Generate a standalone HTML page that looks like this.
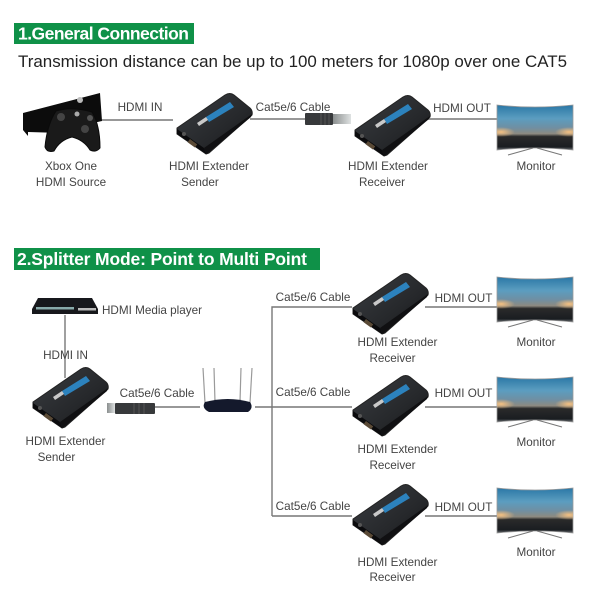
<!DOCTYPE html>
<html><head><meta charset="utf-8">
<style>html,body{margin:0;padding:0;background:#fff}svg{display:block;filter:blur(.3px)}
text{font-family:"Liberation Sans",sans-serif;font-size:11.7px;fill:#444}
.h{font-weight:bold;font-size:17.5px;fill:#fff}.c{text-anchor:middle}</style></head>
<body>
<svg width="608" height="608" viewBox="0 0 608 608" xmlns="http://www.w3.org/2000/svg">
<defs>
<linearGradient id="scr" x1="0" y1="0" x2="0" y2="1">
<stop offset="0" stop-color="#2a77a6"/><stop offset=".3" stop-color="#5b9dc0"/><stop offset=".5" stop-color="#6f8fa3"/><stop offset=".64" stop-color="#8d8a80"/><stop offset=".7" stop-color="#2a2a2a"/><stop offset=".93" stop-color="#1a1d21"/><stop offset="1" stop-color="#6b6f73"/></linearGradient>
<radialGradient id="glow"><stop offset="0" stop-color="#f5c182"/><stop offset="1" stop-color="#f5c182" stop-opacity="0"/></radialGradient>
<linearGradient id="body" x1="0" y1="0" x2="1" y2="1"><stop offset="0" stop-color="#3a3d41"/><stop offset=".6" stop-color="#26282b"/><stop offset="1" stop-color="#141416"/></linearGradient>
<linearGradient id="pl" x1="0" y1="0" x2="1" y2="0"><stop offset="0" stop-color="#8a8e8e"/><stop offset="1" stop-color="#dfe2e2"/></linearGradient>
<clipPath id="mc"><rect x="0" y="0" width="76" height="46"/></clipPath>
<g id="ext">
<path d="M1 3 L49-30 Q54-33 58-30 L74-17 Q77-14 76-10 L33 28 L30 29 L1 9Z" fill="url(#body)" stroke="#222" stroke-width="1" stroke-linejoin="round"/>
<path d="M1 4 L28 23 L30 29 L1 9Z" fill="#0b0b0d"/>
<path d="M28 23 L76-11 L75-8 L32 28 L30 29Z" fill="#101012"/>
<path d="M30-8 L54-23 L58-18 L33-3Z" fill="#2c82bd"/>
<path d="M21-2 L30-8 L32-5 L23 1Z" fill="#c9c9c9"/>
<rect x="12" y="16" width="9" height="4" transform="rotate(36 16 18)" fill="#5a4a36"/>
<circle cx="8" cy="9" r="2" fill="#555"/>
</g>
<g id="mon">
<path d="M0 0 Q38 4 76 0 L76 45 Q38 41 0 45Z" fill="url(#scr)" stroke="#999" stroke-width=".8"/>
<g clip-path="url(#mc)">
<ellipse cx="4" cy="27" rx="14" ry="5" fill="url(#glow)"/>
<ellipse cx="72" cy="27" rx="14" ry="5" fill="url(#glow)"/>
</g>
<path d="M40 43 L65 50 M36 43 L11 50" stroke="#777" stroke-width="1" fill="none"/>
</g>
<g id="plug">
<rect x="0" y="0" width="28" height="12" rx="1" fill="#37393b"/>
<path d="M16 0V12M20 0V12M24 0V12" stroke="#555" stroke-width="1"/>
<rect x="28" y="1" width="18" height="10" fill="url(#pl)"/>
</g>
</defs>
<rect width="608" height="608" fill="#fff"/>

<rect x="14" y="23" width="180" height="21" fill="#0f9148"/>
<text x="18" y="39.5" class="h" textLength="171" lengthAdjust="spacing">1.General Connection</text>
<text x="18" y="67" style="font-size:16.5px;fill:#222" textLength="549" lengthAdjust="spacingAndGlyphs">Transmission distance can be up to 100 meters for 1080p over one CAT5</text>

<g stroke="#777" stroke-width="1.4" fill="none">
<path d="M96 120H173M250 119H306M425 119H497"/>
<path d="M65 315V378M155 407H200M255 407H272M272 516V307H352M272 407H352M272 516H352M425 307H497M425 407H497M425 516H497"/>
</g>

<!-- Xbox -->
<path d="M23 113 L100 93 L102 121 L62 130 L62 133 L28 132 L28 136 L23 130Z" fill="#0c0c0c"/>
<path d="M56 111 Q72 106 92 112 Q100 125 100 148 Q96 153 90 150 Q84 140 72 137 Q60 140 54 151 Q47 153 45 147 Q47 125 56 111Z" fill="#1a1a1a" stroke="#0a0a0a"/>
<circle cx="80" cy="100" r="3" fill="#bbb"/><circle cx="77" cy="114" r="2.5" fill="#aaa"/>
<circle cx="61" cy="117" r="4" fill="#444"/><circle cx="85" cy="129" r="4" fill="#444"/><circle cx="90" cy="118" r="3" fill="#555"/>

<use href="#ext" x="176" y="125"/>
<use href="#plug" x="305" y="113"/>
<use href="#ext" x="354" y="127"/>
<use href="#mon" x="497" y="105"/>

<text x="140" y="111" class="c">HDMI IN</text>
<text x="293" y="111" class="c">Cat5e/6 Cable</text>
<text x="462" y="112" class="c">HDMI OUT</text>
<text x="71" y="170" class="c">Xbox One</text>
<text x="71" y="186" class="c">HDMI Source</text>
<text x="209" y="170" class="c">HDMI Extender</text>
<text x="200" y="186" class="c">Sender</text>
<text x="388" y="170" class="c">HDMI Extender</text>
<text x="382" y="186" class="c">Receiver</text>
<text x="536" y="170" class="c">Monitor</text>

<rect x="14" y="248" width="306" height="22" fill="#0f9148"/>
<text x="17" y="265" class="h" textLength="290" lengthAdjust="spacing">2.Splitter Mode: Point to Multi Point</text>

<!-- DVD -->
<path d="M38 298 H92 L98 309 V314 H32 V309Z" fill="#17181c"/>
<rect x="36" y="307" width="38" height="2.5" fill="#8aa"/>
<rect x="78" y="308" width="18" height="2.5" fill="#bbb"/>

<use href="#ext" x="32" y="399"/>
<!-- plug -->
<rect x="107" y="403" width="8" height="10" fill="url(#pl)"/>
<rect x="115" y="403" width="40" height="11" rx="1" fill="#37393b"/>
<path d="M134 403V414M139 403V414M144 403V414" stroke="#555" stroke-width="1"/>

<!-- Router -->
<g stroke="#9a9a9a" stroke-width="1.2"><path d="M203 368L205 403M214 368L215 402M241 368L240 402M252 368L250 403"/></g>
<path d="M205 402 Q228 396 250 402 Q254 408 248 412 H209 Q201 408 205 402Z" fill="#14192c"/>

<use href="#ext" x="352" y="305"/>
<use href="#ext" x="352" y="407"/>
<use href="#ext" x="352" y="516"/>
<use href="#mon" x="497" y="277"/>
<use href="#mon" x="497" y="377"/>
<use href="#mon" x="497" y="488"/>

<text x="152" y="314" class="c">HDMI Media player</text>
<text x="65.500" y="359" class="c">HDMI IN</text>
<text x="157" y="397" class="c">Cat5e/6 Cable</text>
<text x="65.500" y="445" class="c">HDMI Extender</text>
<text x="56.500" y="461" class="c">Sender</text>

<text x="313" y="301" class="c">Cat5e/6 Cable</text>
<text x="313" y="396" class="c">Cat5e/6 Cable</text>
<text x="313" y="510" class="c">Cat5e/6 Cable</text>
<text x="463.500" y="302" class="c">HDMI OUT</text>
<text x="463.500" y="397" class="c">HDMI OUT</text>
<text x="463.500" y="511" class="c">HDMI OUT</text>
<text x="397.500" y="346" class="c">HDMI Extender</text>
<text x="392.500" y="362" class="c">Receiver</text>
<text x="397.500" y="453" class="c">HDMI Extender</text>
<text x="392.500" y="469" class="c">Receiver</text>
<text x="397.500" y="566" class="c">HDMI Extender</text>
<text x="392.500" y="581" class="c">Receiver</text>
<text x="536" y="346" class="c">Monitor</text>
<text x="536" y="446" class="c">Monitor</text>
<text x="536" y="556" class="c">Monitor</text>
</svg>
</body></html>
